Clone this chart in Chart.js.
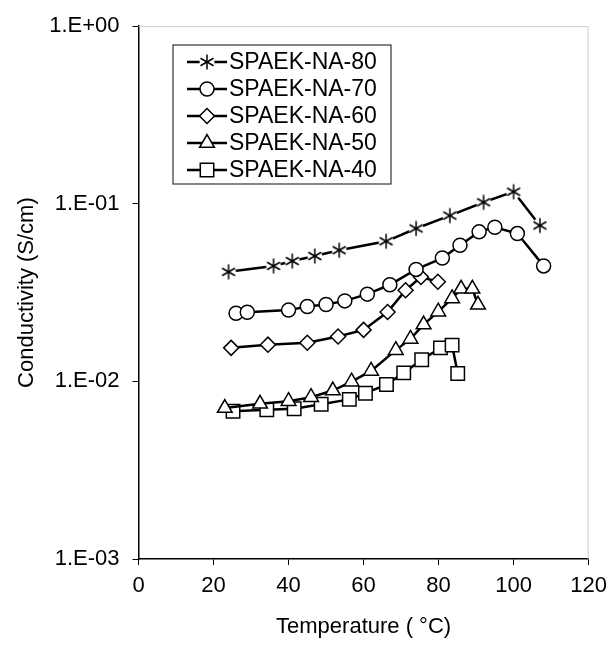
<!DOCTYPE html>
<html>
<head>
<meta charset="utf-8">
<script src="https://cdn.jsdelivr.net/npm/chart.js@4/dist/chart.umd.min.js"></script>
<style>
  html, body { margin: 0; padding: 0; background: #fff; }
  #wrap { width: 615px; height: 647px; }
</style>
</head>
<body>
<div id="wrap"><canvas id="chart"></canvas></div>
<script>
// data: temperature (°C) and conductivity (S/cm)
const names = ['SPAEK-NA-80', 'SPAEK-NA-70', 'SPAEK-NA-60', 'SPAEK-NA-50', 'SPAEK-NA-40'];

const temp80 = [24, 36, 41, 47, 53.5, 66, 74, 83, 92, 100, 107];
const cond80 = [0.0414, 0.0447, 0.0476, 0.0508, 0.0548, 0.0615, 0.0726, 0.0858, 0.102, 0.117, 0.0755];

const temp70 = [26, 29, 40, 45, 50, 55, 61, 67, 74, 81, 85.7, 90.8, 95, 101, 108];
const cond70 = [0.0242, 0.0245, 0.0252, 0.0264, 0.0271, 0.0284, 0.031, 0.035, 0.0427, 0.0495, 0.0584, 0.0695, 0.0738, 0.068, 0.0447];

const temp60 = [24.7, 34.5, 45, 53.2, 60, 66.4, 71.2, 75.3, 79.8];
const cond60 = [0.01545, 0.0161, 0.0165, 0.0179, 0.0195, 0.0246, 0.0326, 0.0387, 0.0364];

const temp50 = [23, 32.4, 40, 46, 51.8, 56.8, 62, 68.6, 72.5, 76, 79.9, 83.6, 86, 89, 90.5];
const cond50 = [0.00708, 0.00748, 0.00774, 0.00815, 0.00888, 0.00996, 0.01146, 0.015, 0.01734, 0.0209, 0.0247, 0.0293, 0.0332, 0.0332, 0.027];

const temp40 = [25.2, 34.2, 41.5, 48.7, 56.2, 60.5, 66.1, 70.7, 75.5, 80.5, 83.6, 85.1];
const cond40 = [0.00679, 0.00693, 0.00702, 0.00743, 0.00792, 0.00858, 0.0096, 0.01117, 0.01325, 0.01545, 0.016, 0.01107];

const yTickValues = [0.001, 0.01, 0.1, 1];
const yTickLabels = ['1.E-03', '1.E-02', '1.E-01', '1.E+00'];

const FONT = "'Liberation Sans', Arial, sans-serif";

// six-armed asterisk marker with a white halo so the line breaks around it
function asterisk() {
  const c = document.createElement('canvas');
  c.width = 20; c.height = 20;
  const g = c.getContext('2d');
  g.fillStyle = '#fff';
  g.beginPath(); g.arc(10, 10, 7.5, 0, Math.PI * 2); g.fill();
  g.strokeStyle = '#000'; g.lineWidth = 1.5;
  for (let i = 0; i < 3; i++) {
    const a = Math.PI / 2 + i * Math.PI / 3;
    g.beginPath();
    g.moveTo(10 + Math.cos(a) * 7.5, 10 + Math.sin(a) * 7.5);
    g.lineTo(10 - Math.cos(a) * 7.5, 10 - Math.sin(a) * 7.5);
    g.stroke();
  }
  return c;
}

const pts = (xs, ys) => xs.map((x, i) => ({ x, y: ys[i] }));

const styles = [
  { pointStyle: asterisk(), pointRadius: 8 },
  { pointStyle: 'circle', pointRadius: 7 },
  { pointStyle: 'rectRot', pointRadius: 7.5 },
  { pointStyle: 'triangle', pointRadius: 8.5 },
  { pointStyle: 'rect', pointRadius: 9.5 }
];
const series = [[temp80, cond80], [temp70, cond70], [temp60, cond60], [temp50, cond50], [temp40, cond40]];

const datasets = series.map((s, i) => ({
  label: names[i],
  data: pts(s[0], s[1]),
  showLine: true,
  borderColor: '#000',
  borderWidth: 2.5,
  pointBackgroundColor: '#fff',
  pointBorderColor: '#000',
  pointBorderWidth: 1.5,
  pointStyle: styles[i].pointStyle,
  pointRadius: styles[i].pointRadius,
  tension: 0
}));

// legend box inside the plot + faint frame on top/right
const legendBox = {
  id: 'legendBox',
  afterDraw(chart) {
    const ctx = chart.ctx;
    const a = chart.chartArea;
    ctx.save();
    ctx.strokeStyle = '#ccc';
    ctx.lineWidth = 1;
    ctx.beginPath();
    ctx.moveTo(a.left, a.top + 0.5);
    ctx.lineTo(a.right - 0.5, a.top + 0.5);
    ctx.lineTo(a.right - 0.5, a.bottom);
    ctx.stroke();

    ctx.strokeStyle = '#333';
    ctx.lineWidth = 1.2;
    ctx.fillStyle = '#fff';
    ctx.fillRect(173, 45, 218, 139);
    ctx.strokeRect(173, 45, 218, 139);
    ctx.font = '23px ' + FONT;
    ctx.textBaseline = 'middle';
    chart.data.datasets.forEach((ds, i) => {
      const y = 62 + i * 27;
      ctx.strokeStyle = '#000';
      ctx.lineWidth = 2.5;
      ctx.beginPath(); ctx.moveTo(187, y); ctx.lineTo(227, y); ctx.stroke();
      ctx.fillStyle = '#fff';
      ctx.lineWidth = 1.5;
      Chart.helpers.drawPoint(ctx, { pointStyle: ds.pointStyle, radius: ds.pointRadius, borderWidth: 1.5 }, 207, y);
      ctx.fillStyle = '#000';
      ctx.fillText(ds.label, 229, y + 1);
    });
    ctx.restore();
  }
};

new Chart(document.getElementById('chart'), {
  type: 'scatter',
  data: { datasets },
  plugins: [legendBox],
  options: {
    responsive: true,
    maintainAspectRatio: false,
    animation: false,
    layout: { padding: { top: 19, right: 21, left: 0, bottom: 0 } },
    plugins: { legend: { display: false }, tooltip: { enabled: false } },
    scales: {
      x: {
        type: 'linear',
        min: 0, max: 120,
        ticks: { stepSize: 20, color: '#000', font: { family: FONT, size: 22 }, padding: 8, maxRotation: 0 },
        grid: { drawOnChartArea: false, drawTicks: true, tickLength: 6, color: '#000' },
        border: { color: '#000', width: 1.5 },
        title: { display: true, text: 'Temperature ( °C)', color: '#000', font: { family: FONT, size: 22 }, padding: { top: 0, bottom: 7 } },
        afterFit: s => { s.height = 88; }
      },
      y: {
        type: 'logarithmic',
        min: 0.001, max: 1,
        afterBuildTicks: s => { s.ticks = yTickValues.map(v => ({ value: v, major: true })); },
        ticks: {
          color: '#000', font: { family: FONT, size: 22 }, padding: 13,
          callback: (v) => yTickLabels[yTickValues.indexOf(v)] ?? ''
        },
        grid: { drawOnChartArea: false, drawTicks: true, tickLength: 6, color: '#000' },
        border: { color: '#000', width: 1.5 },
        title: { display: true, text: 'Conductivity (S/cm)', color: '#000', font: { family: FONT, size: 22 }, padding: { top: 14, bottom: 0 } },
        afterFit: s => { s.width = 138.5; }
      }
    }
  }
});
</script>
</body>
</html>
